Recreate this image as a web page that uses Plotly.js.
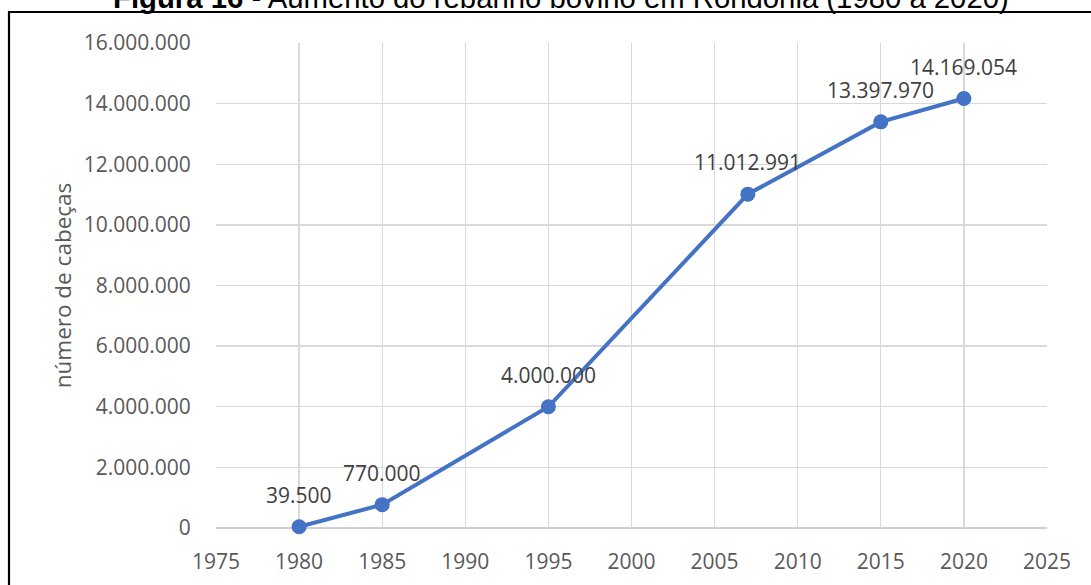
<!DOCTYPE html>
<html>
<head>
<meta charset="utf-8">
<script src="https://cdn.plot.ly/plotly-3.0.1.min.js"></script>
<style>
  html, body { margin: 0; padding: 0; background: #ffffff; }
  #chart { width: 1091px; height: 585px; }
</style>
</head>
<body>
<div id="chart"></div>
<script>
// Rebanho bovino em Rondônia, número de cabeças por ano
const anos = [1980, 1985, 1995, 2007, 2015, 2020];
const cabecas = [39500, 770000, 4000000, 11012991, 13397970, 14169054];

const xTicks = [1975, 1980, 1985, 1990, 1995, 2000, 2005, 2010, 2015, 2020, 2025];
const yTicks = [0, 2000000, 4000000, 6000000, 8000000, 10000000, 12000000, 14000000, 16000000];

const tituloFigura = '<b>Figura 16</b> - Aumento do rebanho bovino em Rondônia (1980 a 2020)';
const tituloEixoY = 'número de cabeças';

// separador de milhar com ponto: 14169054 -> "14.169.054"
function formatarMilhar(v) {
  return String(Math.round(v)).replace(/\B(?=(\d{3})+(?!\d))/g, '.');
}

const serie = {
  x: anos,
  y: cabecas,
  type: 'scatter',
  mode: 'lines+markers',
  line: { color: '#4472C4', width: 4 },
  marker: { color: '#4472C4', size: 15 },
  cliponaxis: false,
  hoverinfo: 'skip',
  showlegend: false
};

// rótulos de valor acima de cada ponto
const rotulos = anos.map((ano, i) => ({
  x: ano,
  y: cabecas[i],
  xref: 'x', yref: 'y',
  text: formatarMilhar(cabecas[i]),
  showarrow: false,
  xanchor: 'center', yanchor: 'middle',
  yshift: 32,
  font: { family: 'Open Sans, sans-serif', size: 21, color: '#404040' }
}));

const layout = {
  width: 1091,
  height: 585,
  margin: { l: 216, r: 44, t: 43, b: 57 },
  paper_bgcolor: '#ffffff',
  plot_bgcolor: '#ffffff',
  separators: ',.',
  font: { family: 'Open Sans, sans-serif', size: 21, color: '#595959' },
  xaxis: {
    range: [1975, 2025],
    tickvals: xTicks,
    tickformat: 'd',
    showgrid: true,
    gridcolor: '#d9d9d9',
    gridwidth: 1.3,
    zeroline: false,
    showline: false,
    ticks: 'outside',
    ticklen: 15,
    tickcolor: 'rgba(0,0,0,0)',
    tickfont: { size: 21, color: '#595959' },
    fixedrange: true
  },
  yaxis: {
    range: [0, 16000000],
    tickvals: yTicks,
    tickformat: ',d',
    showgrid: true,
    gridcolor: '#d9d9d9',
    gridwidth: 1.3,
    zeroline: true,
    zerolinecolor: '#d0d0d0',
    zerolinewidth: 1.5,
    showline: false,
    ticks: 'outside',
    ticklen: 20,
    tickcolor: 'rgba(0,0,0,0)',
    tickfont: { size: 21, color: '#595959' },
    title: { text: tituloEixoY, font: { size: 22.5, color: '#595959' }, standoff: 5 },
    automargin: false,
    fixedrange: true
  },
  shapes: [
    {
      // moldura da figura
      type: 'rect', xref: 'paper', yref: 'paper',
      x0: -0.2491, x1: 1.07, y0: -0.16, y1: 1.0639,
      line: { color: '#000000', width: 2.2 },
      fillcolor: 'rgba(0,0,0,0)',
      layer: 'above'
    }
  ],
  annotations: [
    {
      text: tituloFigura,
      xref: 'paper', yref: 'paper',
      x: 0.4152, y: 1.0928,
      xanchor: 'center', yanchor: 'middle',
      showarrow: false,
      font: { family: 'Liberation Sans, Arial, sans-serif', size: 29.3, color: '#000000' }
    }
  ].concat(rotulos)
};

Plotly.newPlot('chart', [serie], layout, { displayModeBar: false, staticPlot: true });
</script>
</body>
</html>
